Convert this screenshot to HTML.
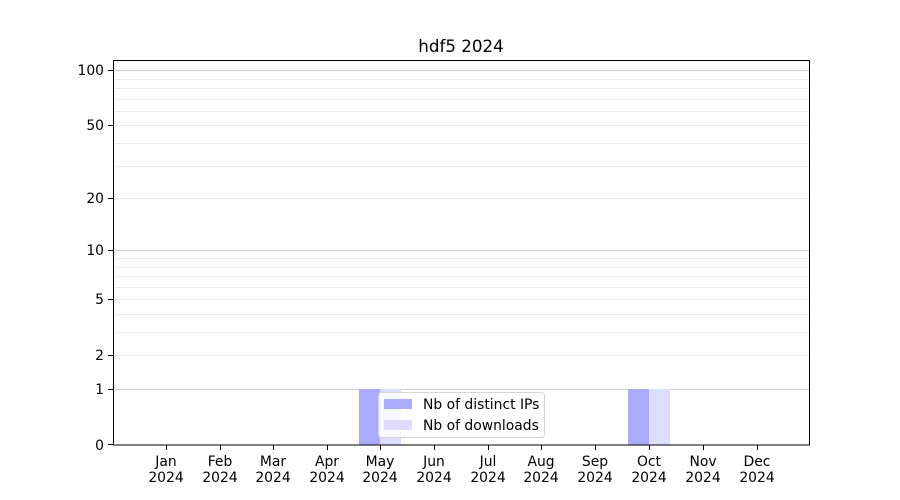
<!DOCTYPE html>
<html><head><meta charset="utf-8"><style>html,body{margin:0;padding:0;background:#fff}svg{display:block}</style></head>
<body>
<svg width="900" height="500" xmlns="http://www.w3.org/2000/svg" font-family="DejaVu Sans, Liberation Sans, sans-serif">
<rect width="900" height="500" fill="#fff"/>
<g stroke="#ebebeb" stroke-width="1">
<line x1="113" x2="810" y1="79.5" y2="79.5"/><line x1="113" x2="810" y1="88.5" y2="88.5"/>
<line x1="113" x2="810" y1="99.5" y2="99.5"/><line x1="113" x2="810" y1="111.5" y2="111.5"/>
<line x1="113" x2="810" y1="125.5" y2="125.5"/><line x1="113" x2="810" y1="143.5" y2="143.5"/>
<line x1="113" x2="810" y1="166.5" y2="166.5"/><line x1="113" x2="810" y1="198.5" y2="198.5"/>
<line x1="113" x2="810" y1="258.5" y2="258.5"/><line x1="113" x2="810" y1="267.5" y2="267.5"/>
<line x1="113" x2="810" y1="276.5" y2="276.5"/><line x1="113" x2="810" y1="287.5" y2="287.5"/>
<line x1="113" x2="810" y1="299.5" y2="299.5"/><line x1="113" x2="810" y1="314.5" y2="314.5"/>
<line x1="113" x2="810" y1="332.5" y2="332.5"/><line x1="113" x2="810" y1="355.5" y2="355.5"/>
</g>
<g stroke="#cccccc" stroke-width="1">
<line x1="113" x2="810" y1="70.5" y2="70.5"/><line x1="113" x2="810" y1="250.5" y2="250.5"/><line x1="113" x2="810" y1="389.5" y2="389.5"/>
</g>
<rect x="359" y="389" width="21" height="56" fill="#aaaaff"/>
<rect x="380" y="389" width="21" height="56" fill="#ddddff"/>
<rect x="628" y="389" width="21" height="56" fill="#aaaaff"/>
<rect x="649" y="389" width="21" height="56" fill="#ddddff"/>
<rect x="113.5" y="60.5" width="696" height="384.5" fill="none" stroke="#000" stroke-width="1"/>
<g stroke="#000">
<line x1="108" x2="113" y1="70.5" y2="70.5"/><line x1="108" x2="113" y1="125.5" y2="125.5"/>
<line x1="108" x2="113" y1="198.5" y2="198.5"/><line x1="108" x2="113" y1="250.5" y2="250.5"/>
<line x1="108" x2="113" y1="299.5" y2="299.5"/><line x1="108" x2="113" y1="355.5" y2="355.5"/>
<line x1="108" x2="113" y1="389.5" y2="389.5"/><line x1="108" x2="113" y1="444.5" y2="444.5"/>
</g>
<g font-size="13.9" text-anchor="end" fill="#000">
<text x="104" y="75">100</text><text x="104" y="130">50</text><text x="104" y="203">20</text>
<text x="104" y="255">10</text><text x="104" y="304">5</text><text x="104" y="360">2</text>
<text x="104" y="394">1</text><text x="104" y="450">0</text>
</g>
<g stroke="#000">
<line x1="166.5" x2="166.5" y1="445" y2="450"/><line x1="220.5" x2="220.5" y1="445" y2="450"/>
<line x1="273.5" x2="273.5" y1="445" y2="450"/><line x1="327.5" x2="327.5" y1="445" y2="450"/>
<line x1="380.5" x2="380.5" y1="445" y2="450"/><line x1="434.5" x2="434.5" y1="445" y2="450"/>
<line x1="488.5" x2="488.5" y1="445" y2="450"/><line x1="541.5" x2="541.5" y1="445" y2="450"/>
<line x1="595.5" x2="595.5" y1="445" y2="450"/><line x1="649.5" x2="649.5" y1="445" y2="450"/>
<line x1="703.5" x2="703.5" y1="445" y2="450"/><line x1="757.5" x2="757.5" y1="445" y2="450"/>
</g>
<g font-size="13.9" text-anchor="middle" fill="#000">
<text x="166" y="466">Jan</text><text x="166" y="482">2024</text>
<text x="220" y="466">Feb</text><text x="220" y="482">2024</text>
<text x="273" y="466">Mar</text><text x="273" y="482">2024</text>
<text x="327" y="466">Apr</text><text x="327" y="482">2024</text>
<text x="380" y="466">May</text><text x="380" y="482">2024</text>
<text x="434" y="466">Jun</text><text x="434" y="482">2024</text>
<text x="488" y="466">Jul</text><text x="488" y="482">2024</text>
<text x="541" y="466">Aug</text><text x="541" y="482">2024</text>
<text x="595" y="466">Sep</text><text x="595" y="482">2024</text>
<text x="649" y="466">Oct</text><text x="649" y="482">2024</text>
<text x="703" y="466">Nov</text><text x="703" y="482">2024</text>
<text x="757" y="466">Dec</text><text x="757" y="482">2024</text>
</g>
<text x="461" y="52" font-size="16.7" text-anchor="middle">hdf5 2024</text>
<rect x="378.5" y="392.5" width="166" height="45" rx="3" fill="#fff" fill-opacity="0.8" stroke="#d5d5d5"/>
<rect x="384" y="399" width="28" height="10" fill="#aaaaff"/>
<rect x="384" y="420" width="28" height="10" fill="#ddddff"/>
<text x="423" y="409" font-size="13.9">Nb of distinct IPs</text>
<text x="423" y="430" font-size="13.9">Nb of downloads</text>
</svg>
</body></html>
